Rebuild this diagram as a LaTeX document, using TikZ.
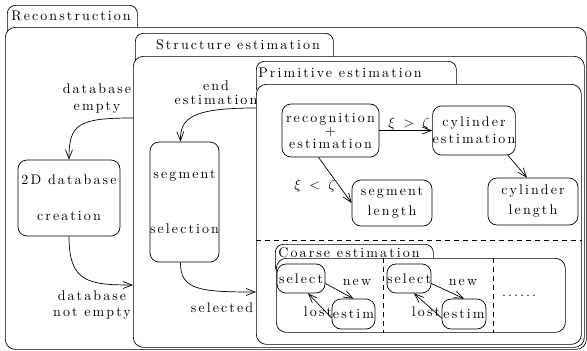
\documentclass[tikz,border=0pt]{standalone}
\usepackage{fontspec}
\newfontfamily\figfamily{lmroman10-regular.otf}[LetterSpace=15]
\usetikzlibrary{arrows.meta}
\usetikzlibrary{positioning}
\tikzset{
    tabbox/.style = {draw=black, fill=white, rounded corners=8pt, inner sep=0pt},
    bodybox/.style = {draw=black, fill=white, rounded corners=10pt, inner sep=0pt},
    statenode/.style = {draw=black, rounded corners=9pt, align=center, inner sep=0pt},
    lbl/.style = {align=center, inner sep=0pt},
    edgen/.style = {->, black},
    divider/.style = {dashed, dash pattern=on 5pt off 4pt},
    figfont/.style = {font=\figfamily\fontsize{14}{16}\selectfont}
}

\begin{document}
\begin{tikzpicture}[x=1pt, y=-1pt, line width=0.7pt,
  >={Straight Barb[length=9pt,width=7pt]},
  figfont]
  \useasboundingbox (0,0) rectangle (587,351);

  % Reconstruction
  \node[tabbox, anchor=north west, minimum width=130pt, minimum height=34pt] (recontab) at (7,5) {};
  \node[bodybox, anchor=north west, minimum width=581pt, minimum height=322pt] (recon) at (5,27) {};
  \node[lbl, anchor=west] (recontitle) at (11,16) {Reconstruction};

  % Structure estimation
  \node[tabbox, anchor=north west, minimum width=198pt, minimum height=34pt] (structtab) at (135,33) {};
  \node[bodybox, anchor=north west, minimum width=451pt, minimum height=291pt] (struct) at (133,56) {};
  \node[lbl] (structtitle) at (238,45) {Structure estimation};

  % Primitive estimation
  \node[tabbox, anchor=north west, minimum width=200pt, minimum height=34pt] (primtab) at (256,61) {};
  \node[bodybox, anchor=north west, minimum width=325pt, minimum height=260pt] (prim) at (256,84) {};
  \node[lbl, anchor=west] (primtitle) at (258,73) {Primitive estimation};
  \draw[divider] (prim.west |- 0,240) -- (prim.east |- 0,240);

  % Coarse estimation
  \node[tabbox, anchor=north west, minimum width=158pt, minimum height=30pt] (coarsetab) at (275,244) {};
  \node[bodybox, anchor=north west, minimum width=289pt, minimum height=74pt] (coarse) at (276,258) {};
  \node[lbl, anchor=west] (coarsetitle) at (278,253) {Coarse estimation};
  \draw[divider] (383,0 |- coarse.north) -- (383,0 |- coarse.south);
  \draw[divider] (493,0 |- coarse.north) -- (493,0 |- coarse.south);

  % states
  \node[statenode, minimum width=102pt, minimum height=76pt] (db) at (69,198) {2D database\\[20pt]creation};
  \node[statenode, minimum width=69pt, minimum height=120pt] (segsel) at (184.5,202) {segment\\[39pt]selection};
  \node[statenode, minimum width=97pt, minimum height=53pt] (rec) at (330.5,130.5) {recognition\\[-3pt]{\Large +}\\[-3pt]estimation};
  \node[statenode, minimum width=80pt, minimum height=49pt] (cyl) at (474,130.5) {cylinder\\[1pt]estimation};
  \node[statenode, minimum width=80pt, minimum height=46pt] (seglen) at (392,203) {segment\\[4pt]length};
  \node[statenode, minimum width=90pt, minimum height=47pt] (cyllen) at (533,201.5) {cylinder\\[4pt]length};
  \node[statenode, minimum width=48pt, minimum height=29pt] (sela) at (301,278.5) {select};
  \node[statenode, minimum width=43pt, minimum height=30pt] (estima) at (353.5,314) {estim};
  \node[statenode, minimum width=44pt, minimum height=29pt] (selb) at (409,278.5) {select};
  \node[statenode, minimum width=44pt, minimum height=30pt] (estimb) at (464,314) {estim};
  \node[lbl] (more) at (519,296) {......};

  % transitions
  \coordinate (dbempty) at (struct.west |- 0,118);
  \coordinate (dbfull) at (struct.west |- 0,285);
  \coordinate (endest) at (prim.west |- 0,108);
  \coordinate (selin) at (prim.west |- 0,292);
  \draw[edgen] (dbempty) .. controls (78,118) and (69,124) .. (db.north);
  \draw[edgen] (db.south) .. controls (69,282) and (88,285) .. (dbfull);
  \draw[edgen] (endest) .. controls (192,108) and (180,118) .. ([xshift=-4pt]segsel.north);
  \draw[edgen] ([xshift=-4pt]segsel.south) .. controls (180,290) and (200,292) .. (selin);
  \draw[edgen] (rec.east) -- (cyl.west);
  \draw[edgen] ([xshift=-12pt]rec.south) -- (seglen.west);
  \draw[edgen] ([xshift=34pt]cyl.south) -- ([xshift=-6pt]cyllen.north);
  \draw[edgen] ([yshift=-5pt]sela.east) -- (estima.north);
  \draw[edgen] ([yshift=-4pt]estima.west) -- ([xshift=7pt]sela.south);
  \draw[edgen] ([yshift=-5pt]selb.east) -- (estimb.north);
  \draw[edgen] ([yshift=-4pt]estimb.west) -- ([xshift=5pt]selb.south);

  % labels
  \node[lbl] (dbemptylbl) at (97,99) {database\\[1pt]empty};
  \node[lbl] (dbfulllbl) at (92,305) {database\\[0pt]not empty};
  \node[lbl] (endestlbl) at (216,93) {end\\[-2pt]estimation};
  \node[lbl] (selectedlbl) at (222,308) {selected};
  \node[lbl] (gtlbl) at (409,124) {$\xi \;>\; \zeta$};
  \node[lbl] (ltlbl) at (315,186) {$\xi \;<\; \zeta$};
  \node[lbl] (newa) at (357,282) {new};
  \node[lbl] (losta) at (318,312) {lost};
  \node[lbl] (newb) at (463,282) {new};
  \node[lbl] (lostb) at (426,312) {lost};
\end{tikzpicture}
\end{document}
